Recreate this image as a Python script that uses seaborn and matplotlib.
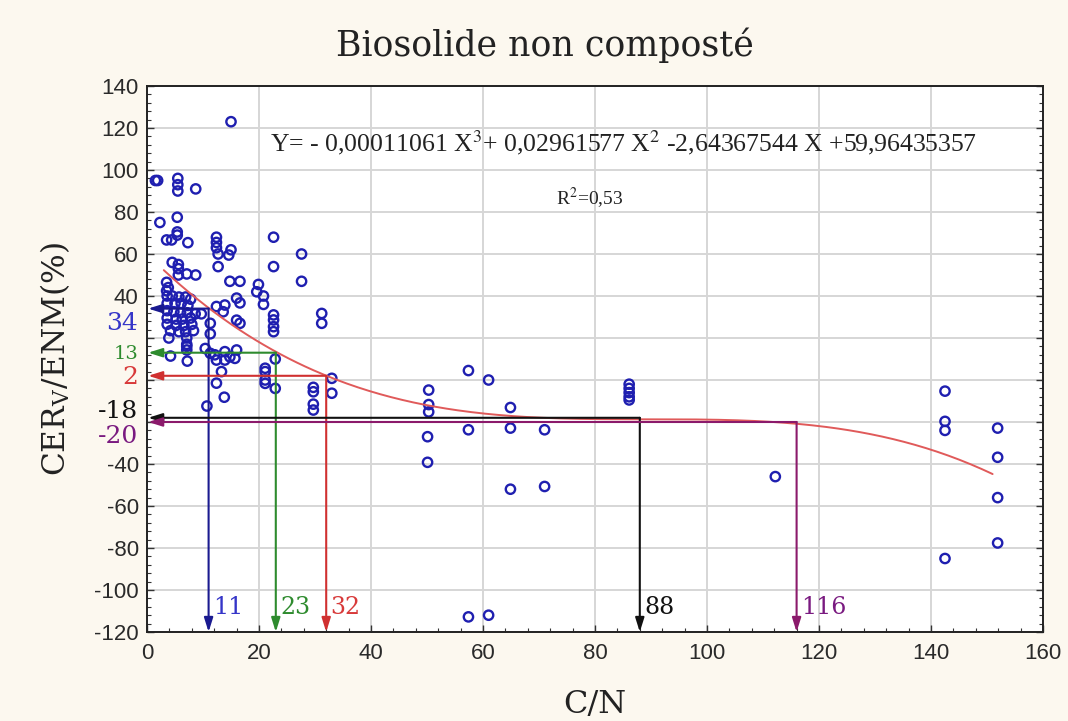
import numpy as np
import pandas as pd
import matplotlib
matplotlib.use("Agg")
import matplotlib.pyplot as plt
from matplotlib.ticker import AutoMinorLocator
import matplotlib.transforms as mtransforms
import seaborn as sns

# ---------------- data ----------------
cn = [1.5, 1.9, 5.5, 5.5, 5.5, 8.7, 15.0, 2.3, 5.4, 5.4, 5.4, 3.5, 4.4, 7.3,
      12.4, 12.4, 12.4, 12.7, 15.0, 14.6, 22.6, 27.6, 4.5, 5.6, 5.6, 12.7, 22.6,
      7.1, 8.7, 5.6, 14.8, 16.6, 19.9, 27.6,
      3.5, 3.8, 3.5, 3.6, 4.5, 5.7, 6.9, 7.8, 3.6, 5.0, 6.1, 7.3, 3.6, 4.8, 6.0,
      7.2, 8.6, 9.7, 3.6, 5.2, 6.3, 7.8, 3.6, 5.2, 6.6, 8.0, 4.2, 5.7, 6.9, 8.3,
      3.9, 7.1, 7.1, 11.3, 11.3,
      12.4, 13.9, 13.6, 16.0, 16.6, 19.6, 20.8, 20.8, 16.0, 16.6,
      22.6, 22.6, 22.6, 22.6, 31.2, 31.2, 7.1, 7.1, 4.2, 7.2,
      10.4, 11.3, 12.1, 12.4, 13.9, 13.9, 14.8, 15.7, 16.0, 13.3, 12.4, 13.8, 10.7,
      22.9, 21.1, 21.1, 21.1, 21.1, 22.9, 33.0, 33.0, 29.7, 29.7, 29.7, 29.7,
      50.3, 50.3, 50.3, 50.1, 50.1, 57.4, 61.0, 57.4, 64.9, 64.9, 71.0, 64.9, 71.0,
      86.1, 86.1, 86.1, 86.1, 86.1, 112.2, 142.5, 142.5, 142.5, 142.5,
      151.9, 151.9, 151.9, 151.9, 57.4, 61.0]
cer = [95, 95, 96, 93, 90, 91, 123, 75, 77.5, 70.5, 69, 66.7, 66.7, 65.4,
       68, 65.5, 63, 60, 62, 59.5, 68, 60, 56, 55, 53, 54, 54,
       50.5, 50, 50, 47, 47, 45.5, 47,
       46.5, 44, 42.5, 40, 40, 39.5, 39.5, 38.5, 36.5, 36.5, 36.5, 35.5, 33, 32.5, 32,
       32, 31.5, 31.5, 29.5, 29, 29, 29.5, 26.5, 26, 26, 26.5, 23.5, 23, 23, 23.5,
       20, 20, 17, 27, 22,
       35, 35.7, 32.5, 39, 36.7, 42, 40, 36, 28.5, 27,
       31, 28.6, 25.4, 23, 31.7, 27, 16, 14.3, 11.4, 9,
       15, 12.7, 12, 9.5, 13.5, 9.5, 11, 10.3, 14.3, 4, -1.5, -8.2, -12.4,
       10, 5.6, 4, 0, -1.6, -4, 0.8, -6.3, -3.5, -5.6, -11.5, -14.3,
       -4.8, -11.7, -15.2, -27, -39.2, 4.5, 0, -23.7, -13.1, -22.9, -23.7, -52, -50.7,
       -2, -4, -6, -8, -9.5, -46, -5.3, -19.7, -24, -85,
       -22.9, -36.8, -56, -77.6, -112.8, -112]

# cubic fit coefficients printed on the chart (X^3, X^2, X, 1)
fit_coef = [-0.00011061, 0.02961577, -2.64367544, 59.96435357]
fit_range = [3, 151]

cut_x = [11, 23, 32, 88, 116]
cut_y = [34, 13, 2, -18, -20]
cut_colors = ["#1a1a90", "#2e8b2e", "#d03030", "#111111", "#8b1a6b"]
label_colors = ["#3535c8", "#2e8b2e", "#d83a3a", "#111111", "#7a1a80"]

xticks = list(range(0, 161, 20))
yticks = list(range(-120, 141, 20))
ytick_labels = [str(v) if v not in (20, 0, -20) else "" for v in yticks]

# ---------------- style ----------------
sns.set_theme(style="whitegrid")
plt.rcParams["font.family"] = ["DejaVu Sans"]
plt.rcParams["mathtext.fontset"] = "stix"

serif = ["DejaVu Serif"]
times = ["Liberation Serif", "DejaVu Serif"]
tickfont = ["Liberation Sans", "DejaVu Sans"]

fig = plt.figure(figsize=(10.68, 7.21), dpi=100, facecolor="#fcf8ef")
ax = fig.add_axes([147 / 1068, 1 - 632 / 721, (1043 - 147) / 1068, (632 - 86) / 721])
ax.set_facecolor("white")

df = pd.DataFrame({"C/N": cn, "CER": cer})
sns.scatterplot(data=df, x="C/N", y="CER", ax=ax, marker="o", s=45,
                facecolors="none", edgecolors="#1f1fb0", linewidths=1.7,
                zorder=3, legend=False)

xf = np.linspace(fit_range[0], fit_range[1], 300)
fit_df = pd.DataFrame({"x": xf, "y": np.polyval(fit_coef, xf)})
sns.lineplot(data=fit_df, x="x", y="y", ax=ax, color="#e05a5a", lw=1.4, zorder=4)

# cut lines with arrows
for xv, yv, c in zip(cut_x, cut_y, cut_colors):
    ap = dict(arrowstyle="-|>,head_length=0.7,head_width=0.22", color=c, lw=1.5,
              shrinkA=0, shrinkB=0)
    ax.annotate("", xy=(xv, -120), xytext=(xv, yv), arrowprops=ap, zorder=5)
    ax.annotate("", xy=(0.2, yv), xytext=(xv, yv), arrowprops=ap, zorder=5)

# x labels at the bottom of arrows
for xv, c in zip(cut_x, label_colors):
    ax.text(xv + 0.8, -108.5, str(xv), color=c, fontsize=17, family=serif,
            ha="left", va="center", zorder=6)

# y labels on the left of the axis
trans = mtransforms.blended_transform_factory(ax.transAxes, ax.transData)
ylab_pos = [27.1, 12.4, 1.4, -14.8, -26.7]
ylab_size = [18, 14, 18, 18, 18]
for yv, yp, c, fs in zip(cut_y, ylab_pos, label_colors, ylab_size):
    ax.text(-0.010, yp, str(yv), color=c, fontsize=fs, family=serif,
            ha="right", va="center", transform=trans, clip_on=False)

# equation text
ax.text(22, 113, "Y= - 0,00011061 X$^{3}$+ 0,02961577 X$^{2}$ -2,64367544 X +59,96435357",
        fontsize=18.5, family=times, color="#222222", va="center", ha="left")
ax.text(73, 87, "R$^{2}$=0,53", fontsize=14, family=times, color="#222222",
        va="center", ha="left")

ax.set_xlim(0, 160)
ax.set_ylim(-120, 140)
ax.set_xticks(xticks)
ax.set_yticks(yticks)
ax.set_yticklabels(ytick_labels)
ax.xaxis.set_minor_locator(AutoMinorLocator(5))
ax.yaxis.set_minor_locator(AutoMinorLocator(5))
ax.tick_params(axis="both", which="major", direction="in", length=5, width=1,
               colors="#333333", labelsize=16, left=True, bottom=True, right=True)
ax.tick_params(axis="both", which="minor", direction="in", length=3, width=0.8,
               colors="#333333", left=True, bottom=True, right=True)
for lab in ax.get_xticklabels() + ax.get_yticklabels():
    lab.set_family(tickfont)
    lab.set_color("#2a2a2a")
ax.tick_params(axis="x", pad=8)
ax.tick_params(axis="y", pad=6)
ax.grid(True, which="major", color="#d6d6d6", lw=1.4)
for s in ax.spines.values():
    s.set_visible(True)
    s.set_color("#222222")
    s.set_linewidth(1.4)

ax.set_xlabel("C/N", fontsize=23, family=serif, color="#222222", labelpad=18)
ax.set_ylabel("CER$_{\\mathregular{V}}$/ENM(%)", fontsize=22.5, family=serif,
              color="#222222", labelpad=16)
fig.text(545 / 1068, 1 - 45 / 721, "Biosolide non composté", fontsize=25,
         family=serif, color="#222222", ha="center", va="center")

fig.savefig("out.png", dpi=100, facecolor=fig.get_facecolor())
